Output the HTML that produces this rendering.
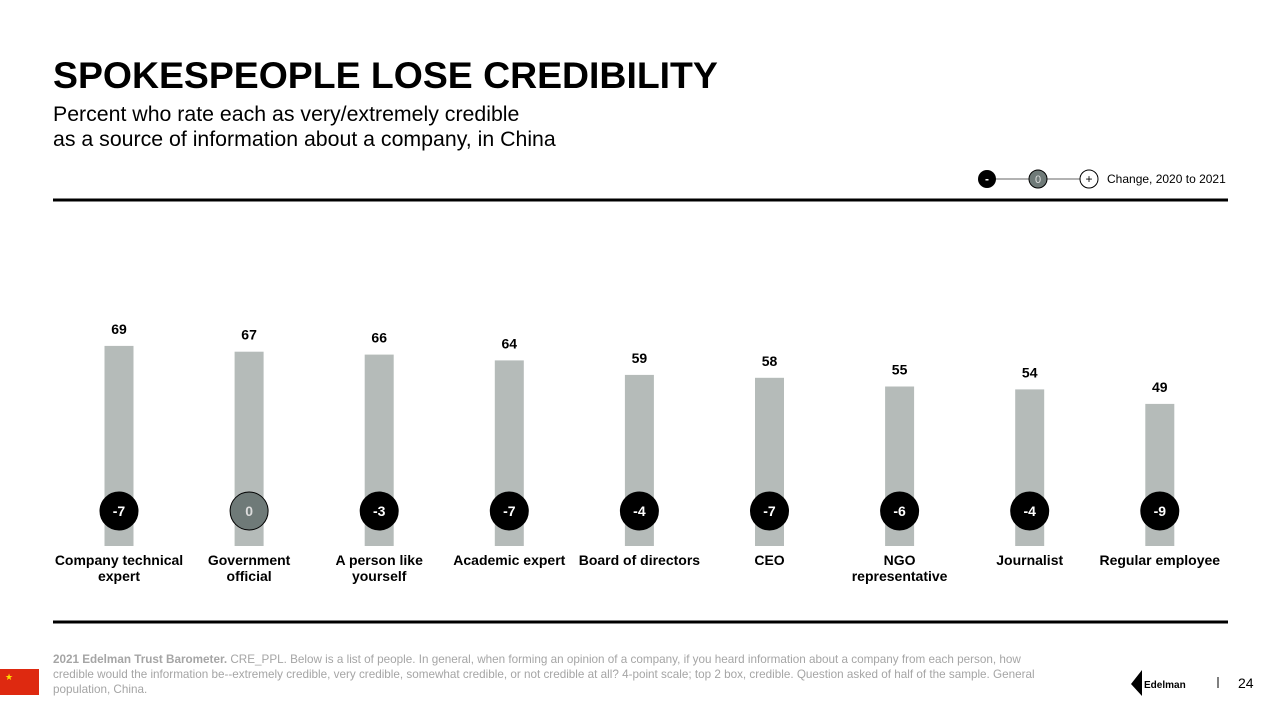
<!DOCTYPE html>
<html><head><meta charset="utf-8"><style>
body{margin:0;width:1280px;height:720px;background:#fff;font-family:"Liberation Sans",sans-serif;position:relative;overflow:hidden}
.abs{position:absolute}
</style></head><body>
<div class="abs" style="left:53px;top:54px;font-size:37.4px;font-weight:bold;color:#000">SPOKESPEOPLE LOSE CREDIBILITY</div>
<div class="abs" style="left:53px;top:102px;font-size:21.3px;line-height:25px;color:#000">Percent who rate each as very/extremely credible<br>as a source of information about a company, in China</div>
<svg class="abs" style="left:0;top:0" width="1280" height="720" id="chart">
<g>
<line x1="987" y1="179" x2="1088" y2="179" stroke="#999" stroke-width="1.5"/>
<circle cx="987" cy="179" r="9" fill="#000"/><text x="987" y="183" font-size="12" fill="#fff" text-anchor="middle" font-weight="bold">-</text>
<circle cx="1038" cy="179" r="9" fill="#6f7a78" stroke="#000"/><text x="1038" y="183" font-size="11" fill="#ddd" text-anchor="middle">0</text>
<circle cx="1089" cy="179" r="9" fill="#fff" stroke="#000"/><text x="1089" y="183" font-size="12" fill="#000" text-anchor="middle">+</text>
<text x="1107" y="183" font-size="12" fill="#000">Change, 2020 to 2021</text>
</g>
<line x1="53" y1="200" x2="1228" y2="200" stroke="#000" stroke-width="3"/>
<line x1="53" y1="622" x2="1228" y2="622" stroke="#000" stroke-width="3"/>
<g id="marks"></g>
<rect x="0" y="669" width="39" height="26" fill="#de2910"/>
<text x="5" y="680" font-size="9" fill="#ffde00">★</text>
<g>
<polygon points="1131,684 1142,670 1142,696" fill="#000"/>
<text x="1144" y="688" font-size="10" font-weight="bold" fill="#000">Edelman</text>
</g>
<line x1="1218" y1="677" x2="1218" y2="688" stroke="#000"/>
<text x="1238" y="688" font-size="14" fill="#000">24</text>
</svg>
<div class="abs" style="left:53px;top:652px;width:1010px;font-size:11.7px;line-height:15px;color:#a5a5a5"><b>2021 Edelman Trust Barometer.</b> CRE_PPL. Below is a list of people. In general, when forming an opinion of a company, if you heard information about a company from each person, how credible would the information be--extremely credible, very credible, somewhat credible, or not credible at all? 4-point scale; top 2 box, credible. Question asked of half of the sample. General population, China.</div>
<script>
const categories=[["Company technical","expert"],["Government","official"],["A person like","yourself"],["Academic expert"],["Board of directors"],["CEO"],["NGO","representative"],["Journalist"],["Regular employee"]];
const values=[69,67,66,64,59,58,55,54,49];
const changes=[-7,0,-3,-7,-4,-7,-6,-4,-9];
const NS="http://www.w3.org/2000/svg";
const g=document.getElementById('marks');
const x=i=>119+i*130.1;
const y=v=>546-v*2.9;
function mk(t,a){const e=document.createElementNS(NS,t);for(const k in a)e.setAttribute(k,a[k]);g.appendChild(e);return e;}
values.forEach((v,i)=>{
  const r=mk('rect',{x:x(i)-14.5,y:y(v),width:29,height:546-y(v),fill:'#b5bbb9'});
  
  
  const t=mk('text',{x:x(i),y:y(v)-12,'font-size':14,'font-weight':'bold','text-anchor':'middle',fill:'#000'});
  t.textContent=v;
  
  
  const c=changes[i];
  const ci=mk('circle',{cx:x(i),cy:511,r:19,fill:c===0?'#6f7a78':'#000',stroke:'#000'});
  
  
  const ct=mk('text',{x:x(i),y:516,'font-size':14,'font-weight':'bold','text-anchor':'middle',fill:c===0?'#ddd':'#fff'});
  ct.textContent=c;
  
  
  categories[i].forEach((ln,j)=>{
    const lt=mk('text',{x:x(i),y:565+j*16,'font-size':14,'font-weight':'bold','text-anchor':'middle',fill:'#000'});
    lt.textContent=ln;
    
    
  });
});
</script>
</body></html>
